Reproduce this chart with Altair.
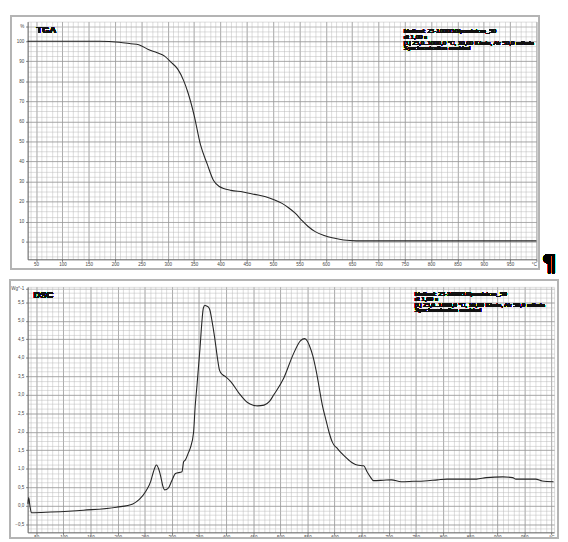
import altair as alt
import pandas as pd

# ---------------- data ----------------
tga_temp = [34, 100, 170, 208, 230, 245, 263, 280, 294, 306, 319, 330, 338, 350, 362,
            375, 387, 398, 406, 420, 443, 465, 486, 503, 517, 530, 542, 554, 566, 580,
            597, 615, 634, 658, 700, 800, 900, 1000]
tga_mass = [100, 100, 100, 99.5, 98.8, 98.3, 95.9, 94.3, 92.6, 89.6, 86.1, 80.5, 74.7,
            63.2, 48.5, 38.7, 30.5, 27.5, 26.5, 25.6, 24.8, 23.6, 22.4, 20.8, 19.1, 16.8,
            14.2, 10.8, 7.7, 5.0, 3.1, 1.8, 0.8, 0.4, 0.4, 0.4, 0.4, 0.4]

dsc_temp = [34.5, 36, 38, 41, 77, 137, 198, 228, 240, 252, 261, 266, 271.6, 276, 279.5,
            283, 286.5, 290, 294.6, 300, 306.7, 318.7, 321.7, 325, 331, 334, 340, 343,
            346, 352, 355, 358, 361, 364, 367, 370, 374, 379, 384, 388, 393, 400, 409,
            424, 439.5, 450, 457.6, 470, 480, 488, 506, 524, 537, 545, 550, 554, 560,
            566, 578, 584, 590, 596, 599.5, 604, 608.5, 617, 626.7, 635, 641.8, 653.8,
            660, 666, 672, 690, 705, 723, 745, 765.6, 790, 808, 862, 880, 910.5, 928.6,
            934.6, 958.9, 971, 982.9, 1004]
dsc_hf = [0.05, 0.22, 0.02, -0.19, -0.17, -0.12, -0.04, 0.05, 0.17, 0.39, 0.66, 0.92,
          1.10, 0.98, 0.79, 0.55, 0.43, 0.44, 0.50, 0.68, 0.87, 0.92, 1.19, 1.24, 1.45,
          1.56, 1.98, 2.69, 3.2, 4.28, 4.9, 5.34, 5.42, 5.40, 5.38, 5.30, 5.0, 4.54, 4.0,
          3.66, 3.55, 3.48, 3.35, 3.04, 2.79, 2.72, 2.70, 2.72, 2.82, 3.0, 3.44, 4.10,
          4.46, 4.52, 4.45, 4.32, 4.05, 3.66, 2.69, 2.33, 1.98, 1.72, 1.63, 1.57, 1.49,
          1.36, 1.23, 1.14, 1.10, 1.08, 0.92, 0.78, 0.68, 0.69, 0.70, 0.65, 0.66, 0.67,
          0.70, 0.72, 0.72, 0.76, 0.78, 0.76, 0.72, 0.72, 0.72, 0.67, 0.65]

x_ticks = list(range(50, 1001, 50))          # 1000 shown as unit label
x_minor = list(range(40, 1001, 10))
tga_ticks = list(range(0, 101, 10)) + [107.5]  # 107.5 shown as unit label
tga_minor = [v * 2.5 for v in range(-3, 44)]
dsc_ticks = [v * 0.5 for v in range(-1, 12)] + [5.875]
dsc_minor = [v * 0.125 for v in range(-5, 48)]

method_lines = ["Method: 25-1000/10/powietrze_50",
                "dt 1,00 s",
                "[1] 25,0..1000,0 °C, 10,00 K/min, Air 50,0 ml/min",
                "Synchronization enabled"]

FONT = "Liberation Sans"
MINOR = "#b9b9b9"
MAJOR = "#8a8a8a"


def panel(df, width, height, xdom, ydom, yticks, yminor, ylabel_expr, ygrid_test,
          name, name_xy, method_xy, frame, extra=None):
    xscale = alt.Scale(domain=xdom, nice=False, zero=False)
    yscale = alt.Scale(domain=ydom, nice=False, zero=False)
    minor = alt.Chart(df).mark_line(opacity=0).encode(
        x=alt.X("temp:Q", scale=xscale,
                axis=alt.Axis(values=x_minor, grid=True, gridColor=MINOR, gridWidth=0.5,
                              labels=False, ticks=False, domain=False, orient="top",
                              minExtent=0, maxExtent=0, title=None)),
        y=alt.Y("val:Q", scale=yscale,
                axis=alt.Axis(values=yminor, grid=True, gridColor=MINOR, gridWidth=0.5,
                              labels=False, ticks=False, domain=False, orient="right",
                              minExtent=0, maxExtent=0, title=None)),
    )
    line = alt.Chart(df).mark_line(color="#262626", strokeWidth=1.1,
                                   interpolate="monotone").encode(
        x=alt.X("temp:Q", scale=xscale,
                axis=alt.Axis(values=x_ticks, grid=True, gridColor=MAJOR, gridWidth=0.6,
                              labelExpr="datum.value == 1000 ? '°C' : datum.label",
                              labelFontSize=4.6, labelColor="#444", labelFont=FONT,
                              ticks=True, tickSize=2, tickColor="#777",
                              domain=True, domainColor="#666", labelPadding=0.5,
                              minExtent=0, orient="bottom", title=None)),
        y=alt.Y("val:Q", scale=yscale,
                axis=alt.Axis(values=yticks, grid=True,
                              gridColor={"condition": {"test": ygrid_test, "value": MINOR},
                                         "value": MAJOR},
                              gridWidth=0.6, labelExpr=ylabel_expr,
                              labelFontSize=4.6, labelColor="#444", labelFont=FONT,
                              ticks=True, tickSize=2, tickColor="#777",
                              domain=True, domainColor="#666", labelPadding=2,
                              minExtent=0, orient="left", title=None)),
    )
    fr = alt.Chart(df).mark_rect(fillOpacity=0, stroke="#b4b4b4", strokeWidth=1.2).encode(
        x=alt.value(frame[0]), x2=alt.value(width + frame[1]),
        y=alt.value(frame[2]), y2=alt.value(height + frame[3]),
    )
    title = alt.Chart(df).mark_text(text=name, font=FONT, fontSize=9.5, fontWeight="bold",
                                    align="left", baseline="middle", color="#111").encode(
        x=alt.value(name_xy[0]), y=alt.value(name_xy[1]))
    meth = alt.Chart(df).mark_text(text=method_lines, font=FONT, fontSize=6.2,
                                   align="left", baseline="top",
                                   lineHeight=5.7, color="#111").encode(
        x=alt.value(method_xy[0]), y=alt.value(method_xy[1]))
    layers = [minor, line, fr, title, meth]
    if extra is not None:
        layers.append(extra)
    return alt.layer(*layers).resolve_axis(x="independent", y="independent").properties(
        width=width, height=height)


tga_df = pd.DataFrame({"temp": tga_temp, "val": tga_mass})
dsc_df = pd.DataFrame({"temp": dsc_temp, "val": dsc_hf})

pilcrow = alt.Chart(tga_df).mark_text(text="¶", font="DejaVu Sans", fontSize=23,
                                      fontWeight="bold", align="center",
                                      baseline="middle", color="#000").encode(
    x=alt.value(531), y=alt.value(247))

# TGA plot area: x 26..544, y 15..257 ; DSC plot area: x 26..562, y 285..535
tga = panel(tga_df, 518, 242, [34, 1000], [-8.8, 109.8], tga_ticks, tga_minor,
            "datum.value > 100 ? '%' : datum.label", "datum.value > 100",
            "TGA", (9, 8.5), (383, 7), (-17, 3, -6, 10), extra=pilcrow)

dsc = panel(dsc_df, 536, 250, [34, 1005], [-0.72, 5.92], dsc_ticks, dsc_minor,
            "datum.value > 5.6 ? 'Wg^-1' : replace(format(datum.value, '.1f'), '.', ',')",
            "datum.value > 5.6",
            "DSC", (6, 8), (394, 4), (-18, 4, -7, 6))

chart = alt.vconcat(tga, dsc, spacing=28, bounds="flush").properties(
    padding={"left": 0, "top": 1, "right": 0, "bottom": 0}
).configure_view(stroke="transparent").configure(background="white")

chart.save("out.html", embed_options={"renderer": "svg", "actions": False})
